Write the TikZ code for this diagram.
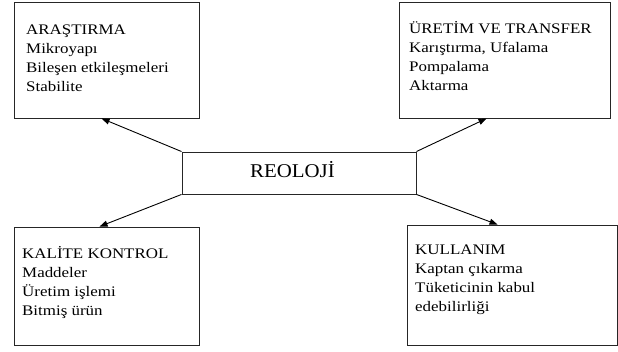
\documentclass[tikz,border=0pt]{standalone}
\usepackage{fontspec}
\setmainfont[FakeStretch=1.16]{Liberation Serif}
\newfontfamily\reofont[FakeStretch=1.07]{Liberation Serif}
\usetikzlibrary{arrows.meta,calc}
\begin{document}
\begin{tikzpicture}[x=1pt,y=1pt,
  box/.style={draw=black!85, line width=0.9pt, inner sep=0pt, minimum width=#1},
  txt/.style={inner sep=0pt, anchor=base west, font=\fontsize{14.6}{19}\selectfont},
  conn/.style={line width=0.9pt, -{Triangle[length=8pt,width=6pt]}}]
\useasboundingbox (0,0) rectangle (618,351);
\fill[white] (0,0) rectangle (618,351);
% boxes
\node[box=185pt, minimum height=116pt] (A) at (106.5,291) {};
\node[box=211pt, minimum height=116pt] (U) at (504.5,291) {};
\node[box=185pt, minimum height=118pt] (K) at (106.5,65) {};
\node[box=210pt, minimum height=120pt] (L) at (512,66) {};
\node[box=234pt, minimum height=42pt] (R) at (299,178) {};
% texts
\node[inner sep=0pt, anchor=base, font=\reofont\fontsize{19.5}{22}\selectfont] (Rt) at (292.5,173) {REOLOJİ};
\foreach \t [count=\i from 0] in {ARAŞTIRMA, Mikroyapı, Bileşen etkileşmeleri, Stabilite}
  \node[txt] (At\i) at (26,316.7-19*\i) {\t};
\foreach \t [count=\i from 0] in {ÜRETİM VE TRANSFER, {Karıştırma, Ufalama}, Pompalama, Aktarma}
  \node[txt] (Ut\i) at (409,317-19*\i) {\t};
\foreach \t [count=\i from 0] in {KALİTE KONTROL, Maddeler, Üretim işlemi, Bitmiş ürün}
  \node[txt] (Kt\i) at (22,93-19*\i) {\t};
\foreach \t [count=\i from 0] in {KULLANIM, Kaptan çıkarma, Tüketicinin kabul, edebilirliği}
  \node[txt] (Lt\i) at (415,97-19*\i) {\t};
% connectors
\coordinate (aA) at ($(A.south west)+(88,0)$);
\coordinate (aU) at ($(U.south west)+(88,0)$);
\coordinate (aK) at ($(K.north west)+(86,0)$);
\coordinate (aL) at ($(L.north west)+(91,0)$);
\draw[conn] (R.north west) -- (aA);
\draw[conn] (R.north east) -- (aU);
\draw[conn] (R.south west) -- (aK);
\draw[conn] (R.south east) -- (aL);
\end{tikzpicture}
\end{document}
